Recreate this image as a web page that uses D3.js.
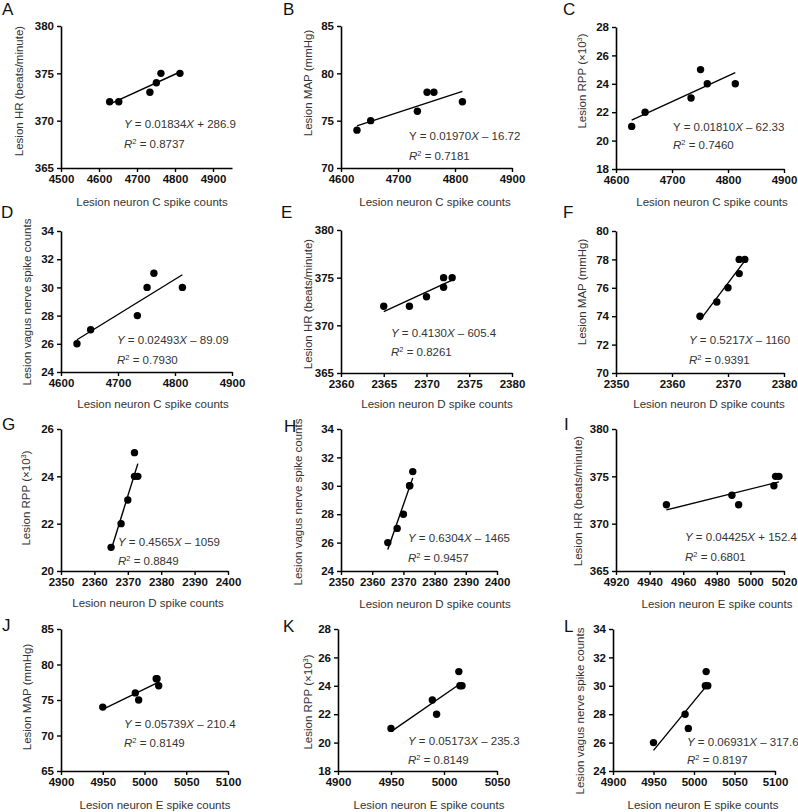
<!DOCTYPE html>
<html><head><meta charset="utf-8">
<script src="https://cdn.jsdelivr.net/npm/d3@7"></script>
<style>
body{margin:0;background:#fff}
svg{display:block}
text{font-family:"Liberation Sans",Arial,Helvetica,sans-serif}
</style>
</head><body>
<svg id="c" width="798" height="812"></svg>
<script>
// ---- data (one entry per animal) ----
const neuronC = [4628, 4652, 4734, 4751, 4763, 4813];
const neuronD = [2365, 2368, 2370, 2372, 2373, 2372];
const neuronE = [4950, 4993, 4989, 5014, 5015, 5017];
const lesionHR = [372, 372, 373, 374, 375, 375];
const lesionMAP = [74, 75, 76, 78, 78, 77];
const lesionRPP = [21, 22, 23, 25, 24, 24];
const lesionVagus = [26, 27, 28, 30, 31, 30];

const panelLetters = ["A","B","C","D","E","F","G","H","I","J","K","L"];
const xSeries = ["C","C","C","C","D","D","D","D","E","E","E","E"];
const ySeries = ["HR","MAP","RPP","V","HR","MAP","RPP","V","HR","MAP","RPP","V"];
const xTitles = {C:"Lesion neuron C spike counts", D:"Lesion neuron D spike counts", E:"Lesion neuron E spike counts"};
const yTitles = {HR:"Lesion HR (beats/minute)", MAP:"Lesion MAP (mmHg)", RPP:"Lesion RPP (\u00d710", V:"Lesion vagus nerve spike counts"};
const xDomains = [[4500,4950],[4600,4900],[4600,4900],[4600,4900],[2360,2380],[2350,2380],[2350,2400],[2350,2400],[4920,5020],[4900,5100],[4900,5050],[4900,5100]];
const xTickVals = [
  [4500,4600,4700,4800,4900],[4600,4700,4800,4900],[4600,4700,4800,4900],[4600,4700,4800,4900],
  [2360,2365,2370,2375,2380],[2350,2360,2370,2380],[2350,2360,2370,2380,2390,2400],[2350,2360,2370,2380,2390,2400],
  [4920,4940,4960,4980,5000,5020],[4900,4950,5000,5050,5100],[4900,4950,5000,5050],[4900,4950,5000,5050,5100]];
const yDomains = [[365,380],[70,85],[18,28],[24,34],[365,380],[70,80],[20,26],[24,34],[365,380],[65,85],[18,28],[24,34]];
const yTickVals = [
  [365,370,375,380],[70,75,80,85],[18,20,22,24,26,28],[24,26,28,30,32,34],
  [365,370,375,380],[70,72,74,76,78,80],[20,22,24,26],[24,26,28,30,32,34],
  [365,370,375,380],[65,70,75,80,85],[18,20,22,24,26,28],[24,26,28,30,32,34]];
const eqSlopes = ["0.01834","0.01970","0.01810","0.02493","0.4130","0.5217","0.4565","0.6304","0.04425","0.05739","0.05173","0.06931"];
const eqIntercepts = ["+ 286.9","\u2013 16.72","\u2013 62.33","\u2013 89.09","\u2013 605.4","\u2013 1160","\u2013 1059","\u2013 1465","+ 152.4","\u2013 210.4","\u2013 235.3","\u2013 317.6"];
const r2Values = ["0.8737","0.7181","0.7460","0.7930","0.8261","0.9391","0.8849","0.9457","0.6801","0.8149","0.8149","0.8197"];

const xData = {C: neuronC, D: neuronD, E: neuronE};
const yData = {HR: lesionHR, MAP: lesionMAP, RPP: lesionRPP, V: lesionVagus};

// ---- layout (pixels) ----
const layout = [
  {x0:61, x1:232, y0:26, y1:168, ytx:19, yty:91, xtx:152, xty:206, ex:124, ey:128, ry:148, lx:2, ly:15, eqItalic:true},
  {x0:341,x1:512, y0:26, y1:168, ytx:308,yty:83, xtx:435, xty:206, ex:409, ey:140, ry:160, lx:283,ly:15, eqItalic:false},
  {x0:616,x1:784, y0:27, y1:169, ytx:582,yty:81, xtx:712, xty:206, ex:673, ey:131, ry:149, lx:563,ly:15, eqItalic:false},
  {x0:61, x1:232, y0:231,y1:372, ytx:27, yty:302,xtx:153, xty:408, ex:117, ey:344, ry:364, lx:1, ly:218, eqItalic:true},
  {x0:341,x1:512, y0:230,y1:373, ytx:308,yty:304,xtx:437, xty:408, ex:391, ey:337, ry:356, lx:281,ly:218, eqItalic:true},
  {x0:616,x1:784, y0:231,y1:373, ytx:582,yty:292,xtx:709, xty:408, ex:689, ey:344, ry:364, lx:563,ly:218, eqItalic:true},
  {x0:61, x1:228, y0:429,y1:571, ytx:26, yty:498,xtx:148, xty:607, ex:118, ey:546, ry:565, lx:2, ly:430, eqItalic:true},
  {x0:341,x1:497, y0:429,y1:571, ytx:298,yty:502,xtx:435, xty:608, ex:408, ey:542, ry:562, lx:284,ly:432, eqItalic:true},
  {x0:616,x1:784, y0:429,y1:571, ytx:578,yty:501,xtx:717, xty:608, ex:685, ey:541, ry:561, lx:564,ly:430, eqItalic:true},
  {x0:61, x1:228, y0:629,y1:771, ytx:27, yty:697,xtx:155, xty:809, ex:124, ey:728, ry:747, lx:2, ly:631, eqItalic:true},
  {x0:338,x1:497, y0:629,y1:771, ytx:308,yty:702,xtx:429, xty:809, ex:408, ey:745, ry:764, lx:283,ly:632, eqItalic:true},
  {x0:613,x1:775, y0:629,y1:771, ytx:580,yty:711,xtx:703, xty:809, ex:687, ey:746, ry:764, lx:564,ly:632, eqItalic:true}
];

const svg = d3.select("#c");
const TXT = "#333";

function linFit(xs, ys) {
  const n = xs.length, mx = d3.mean(xs), my = d3.mean(ys);
  let sxy = 0, sxx = 0;
  for (let i = 0; i < n; i++) { sxy += (xs[i]-mx)*(ys[i]-my); sxx += (xs[i]-mx)**2; }
  const b = sxy/sxx; return {b, a: my - b*mx};
}

layout.forEach((L, i) => {
  const xs = xData[xSeries[i]], ys = yData[ySeries[i]];
  const x = d3.scaleLinear().domain(xDomains[i]).range([L.x0, L.x1]);
  const y = d3.scaleLinear().domain(yDomains[i]).range([L.y1, L.y0]);
  const g = svg.append("g");

  const xa = g.append("g").attr("transform", `translate(0,${L.y1})`)
    .call(d3.axisBottom(x).tickValues(xTickVals[i]).tickSize(4).tickPadding(3).tickSizeOuter(0).tickFormat(d3.format("d")));
  const ya = g.append("g").attr("transform", `translate(${L.x0},0)`)
    .call(d3.axisLeft(y).tickValues(yTickVals[i]).tickSize(4).tickPadding(3).tickSizeOuter(0).tickFormat(d3.format("d")));
  [xa, ya].forEach(a => {
    a.select(".domain").attr("stroke", "#000").attr("stroke-width", 1.6);
    a.selectAll(".tick line").attr("stroke", "#000").attr("stroke-width", 1.4);
    a.selectAll(".tick text").attr("fill", "#111").attr("font-size", 11.5).attr("font-weight", "bold")
      .style("font-family", '"Liberation Sans",Arial,sans-serif');
  });

  // regression line
  const fit = linFit(xs, ys);
  const xmin = d3.min(xs), xmax = d3.max(xs);
  g.append("line")
    .attr("x1", x(xmin)).attr("y1", y(fit.a + fit.b*xmin))
    .attr("x2", x(xmax)).attr("y2", y(fit.a + fit.b*xmax))
    .attr("stroke", "#000").attr("stroke-width", 1.4);

  // points
  g.selectAll("circle").data(xs.map((v, k) => [v, ys[k]])).join("circle")
    .attr("cx", d => x(d[0])).attr("cy", d => y(d[1])).attr("r", 3.7).attr("fill", "#000");

  // panel letter
  g.append("text").attr("x", L.lx).attr("y", L.ly).attr("font-size", 17).attr("fill", "#111").text(panelLetters[i]);

  // axis titles
  g.append("text").attr("x", L.xtx).attr("y", L.xty).attr("text-anchor", "middle")
    .attr("font-size", 11.5).attr("fill", TXT).text(xTitles[xSeries[i]]);
  const yt = g.append("text").attr("transform", `translate(${L.ytx + 4},${L.yty}) rotate(-90)`)
    .attr("text-anchor", "middle").attr("font-size", 11.5).attr("fill", TXT);
  yt.append("tspan").text(yTitles[ySeries[i]]);
  if (ySeries[i] === "RPP") {
    yt.append("tspan").attr("font-size", 7.5).attr("dy", -4).text("3");
    yt.append("tspan").attr("dy", 4).text(")");
  }

  // equation
  const eq = g.append("text").attr("x", L.ex).attr("y", L.ey).attr("font-size", 11.5).attr("fill", TXT);
  eq.append("tspan").attr("font-style", L.eqItalic ? "italic" : "normal").text("Y");
  eq.append("tspan").text(" = " + eqSlopes[i]);
  eq.append("tspan").attr("font-style", "italic").text("X");
  eq.append("tspan").text(" " + eqIntercepts[i]);

  const r2 = g.append("text").attr("x", L.ex).attr("y", L.ry).attr("font-size", 11.5).attr("fill", TXT);
  r2.append("tspan").attr("font-style", "italic").text("R");
  r2.append("tspan").attr("font-size", 7.5).attr("dy", -4.5).text("2");
  r2.append("tspan").attr("dy", 4.5).text(" = " + r2Values[i]);
});
</script>
</body></html>
